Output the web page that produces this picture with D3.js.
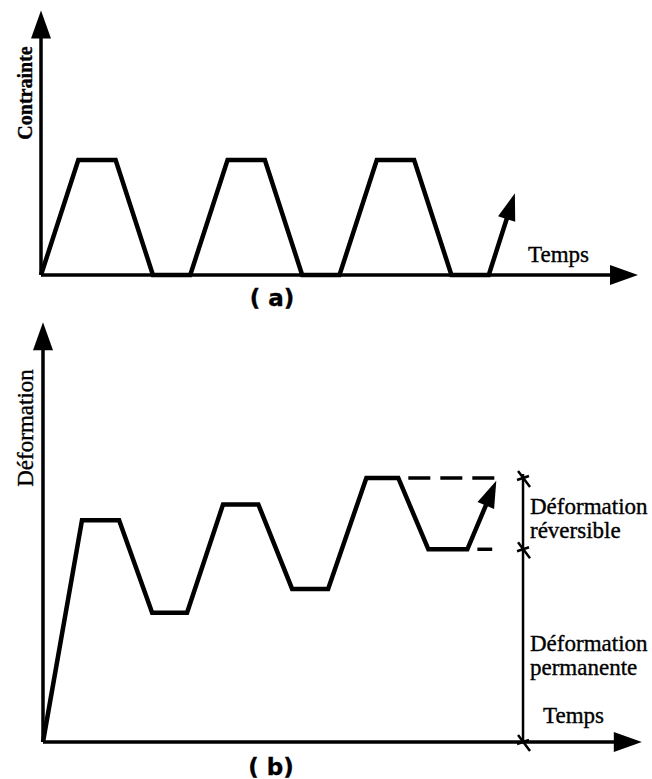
<!DOCTYPE html>
<html>
<head>
<meta charset="utf-8">
<script src="https://cdn.jsdelivr.net/npm/d3@7"></script>
<style>
  body { margin: 0; background: #fff; }
  svg text { font-family: "Liberation Serif", "Times New Roman", serif; fill: #000; stroke: #000; stroke-width: 0.35; }
  .hand { font-family: "DejaVu Sans", sans-serif; font-weight: bold; }
</style>
</head>
<body>
<svg id="chart"></svg>
<script>
// (a) contrainte : temps et niveaux
var timeA = [0, 1, 2, 3, 4, 5, 6, 7, 8, 9, 10, 11, 12];
var stressA = [0, 1, 1, 0, 0, 1, 1, 0, 0, 1, 1, 0, 0];
var arrowA = {t: 12.7, v: 0.71};

// (b) deformation
var timeB = [0, 1.05, 2.05, 2.94, 3.88, 4.85, 5.8, 6.71, 7.68, 8.71, 9.57, 10.38, 11.43];
var strainB = [0, 0.84, 0.84, 0.49, 0.49, 0.90, 0.90, 0.58, 0.58, 1.0, 1.0, 0.73, 0.73];
var arrowB = {t: 12.21, v: 0.99};
var dashB = [ {t0: 9.84, t1: 12.26, v: 1.0}, {t0: 11.7, t1: 12.1, v: 0.73} ];
var bracketB = {t: 12.93, levels: [0, 0.73, 1.0]};

var rightLabels = [
  {v: 0.865, lines: ["Déformation", "réversible"]},
  {v: 0.345, lines: ["Déformation", "permanente"]}
];

var W = 652, H = 779;
var svg = d3.select("#chart").attr("width", W).attr("height", H);

function arrowHead(g, x1, y1, x2, y2, len, half) {
  var a = Math.atan2(y2 - y1, x2 - x1);
  var bx = x2 - len * Math.cos(a), by = y2 - len * Math.sin(a);
  var px = -Math.sin(a) * half, py = Math.cos(a) * half;
  g.append("path")
    .attr("d", `M${x2},${y2}L${bx + px},${by + py}L${bx - px},${by - py}Z`)
    .attr("fill", "#000");
}

// axes with arrows; line stops at arrow base
function axes(g, x, y, xMax, yMax) {
  var x0 = x(0), y0 = y(0);
  g.append("line").attr("x1", x0).attr("y1", y0).attr("x2", x0).attr("y2", y(yMax) + 20)
    .attr("stroke", "#000").attr("stroke-width", 3.5);
  arrowHead(g, x0, y0, x0, y(yMax), 28, 10);
  g.append("line").attr("x1", x0).attr("y1", y0).attr("x2", x(xMax) - 20).attr("y2", y0)
    .attr("stroke", "#000").attr("stroke-width", 3.5);
  arrowHead(g, x0, y0, x(xMax), y0, 28, 10);
}

function curve(g, x, y, ts, vs, arr) {
  var pts = ts.map(function(t, i){ return [x(t), y(vs[i])]; });
  var last = pts[pts.length - 1];
  var tip = [x(arr.t), y(arr.v)];
  var a = Math.atan2(tip[1] - last[1], tip[0] - last[0]);
  pts.push([tip[0] - 20 * Math.cos(a), tip[1] - 20 * Math.sin(a)]);
  g.append("path")
    .attr("d", d3.line()(pts))
    .attr("fill", "none").attr("stroke", "#000")
    .attr("stroke-width", 4.5).attr("stroke-linejoin", "miter");
  arrowHead(g, last[0], last[1], tip[0], tip[1], 27, 9);
}

// ---------- (a)
var xA = d3.scaleLinear().domain([0, 16]).range([41, 638]);
var yA = d3.scaleLinear().domain([0, 1]).range([275, 160]);
var gA = svg.append("g");
axes(gA, xA, yA, 16, 2.3);
curve(gA, xA, yA, timeA, stressA, arrowA);

gA.append("text").attr("transform", "translate(32,93) rotate(-90)")
  .attr("text-anchor", "middle").attr("font-size", 20).attr("font-weight", "bold").text("Contrainte");
gA.append("text").attr("x", 528).attr("y", 262).attr("font-size", 23).text("Temps");
gA.append("text").attr("class", "hand").attr("x", 272).attr("y", 306)
  .attr("text-anchor", "middle").attr("font-size", 23).text("( a)");

// ---------- (b)
var xB = d3.scaleLinear().domain([0, 16]).range([43, 637]);
var yB = d3.scaleLinear().domain([0, 1]).range([742, 478]);
var gB = svg.append("g");
axes(gB, xB, yB, 16.13, 1.59);
curve(gB, xB, yB, timeB, strainB, arrowB);

gB.selectAll(".dash").data(dashB).enter().append("line")
  .attr("x1", function(d){ return xB(d.t0); })
  .attr("x2", function(d){ return xB(d.t1); })
  .attr("y1", function(d){ return yB(d.v); })
  .attr("y2", function(d){ return yB(d.v); })
  .attr("stroke", "#000").attr("stroke-width", 3.5)
  .attr("stroke-dasharray", "22,10");

// bracket on the right
var bx = xB(bracketB.t);
gB.append("line").attr("x1", bx).attr("x2", bx)
  .attr("y1", yB(d3.max(bracketB.levels)) - 4).attr("y2", yB(0))
  .attr("stroke", "#000").attr("stroke-width", 2.5);
gB.selectAll(".tick").data(bracketB.levels).enter().append("path")
  .attr("d", function(d){
    var y = yB(d);
    return `M${bx - 5},${y - 7}L${bx + 7},${y + 9}M${bx - 6},${y + 2}L${bx + 6},${y - 2}`;
  })
  .attr("stroke", "#000").attr("stroke-width", 2.5).attr("fill", "none");

rightLabels.forEach(function(l){
  var t = gB.append("text").attr("x", 530).attr("y", yB(l.v)).attr("font-size", 23);
  l.lines.forEach(function(s, i){
    t.append("tspan").attr("x", 530).attr("dy", i ? 24 : 0).text(s);
  });
});

gB.append("text").attr("transform", "translate(33,428) rotate(-90)")
  .attr("text-anchor", "middle").attr("font-size", 23).text("Déformation");
gB.append("text").attr("x", 543).attr("y", 723).attr("font-size", 23).text("Temps");
gB.append("text").attr("class", "hand").attr("x", 271).attr("y", 775)
  .attr("text-anchor", "middle").attr("font-size", 23).text("( b)");
</script>
</body>
</html>
